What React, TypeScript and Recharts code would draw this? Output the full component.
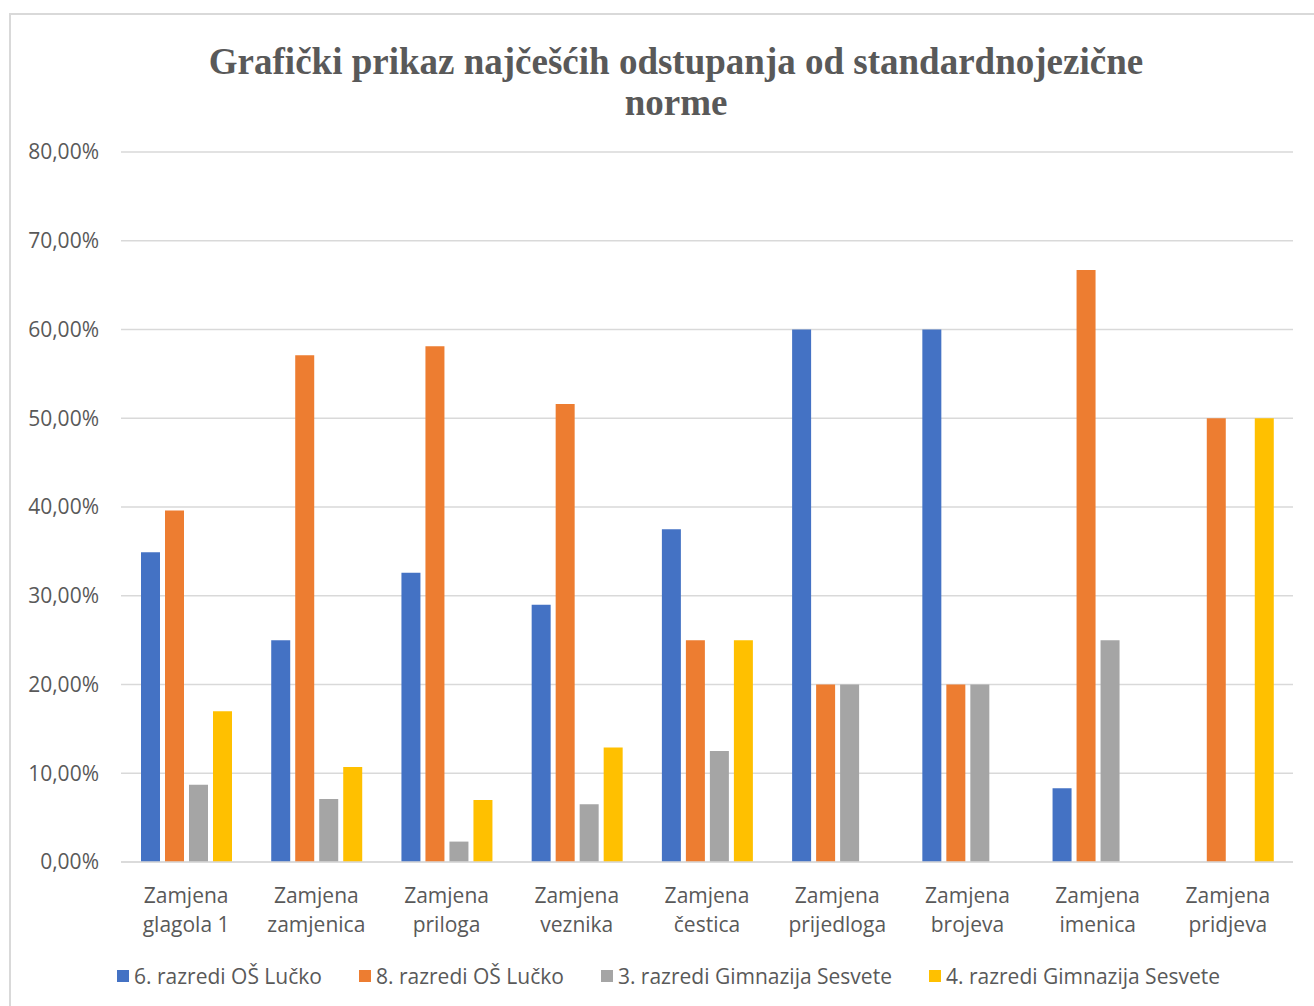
import { BarChart, Bar, XAxis, YAxis, CartesianGrid } from 'recharts';

const categories = [
  'Zamjena glagola 1',
  'Zamjena zamjenica',
  'Zamjena priloga',
  'Zamjena veznika',
  'Zamjena čestica',
  'Zamjena prijedloga',
  'Zamjena brojeva',
  'Zamjena imenica',
  'Zamjena pridjeva',
];

const seriesNames = [
  '6. razredi OŠ Lučko',
  '8. razredi OŠ Lučko',
  '3. razredi Gimnazija Sesvete',
  '4. razredi Gimnazija Sesvete',
];
const colors = ['#4472c4', '#ed7d31', '#a5a5a5', '#ffc000'];

const sesti = [34.9, 25, 32.6, 29, 37.5, 60, 60, 8.3, 0];
const osmi = [39.6, 57.1, 58.1, 51.6, 25, 20, 20, 66.7, 50];
const treci = [8.7, 7.1, 2.3, 6.5, 12.5, 20, 20, 25, 0];
const cetvrti = [17, 10.7, 7, 12.9, 25, 0, 0, 0, 50];

const yTicks = [0, 10, 20, 30, 40, 50, 60, 70, 80];

const data = categories.map((name, i) => ({
  name,
  s0: sesti[i],
  s1: osmi[i],
  s2: treci[i],
  s3: cetvrti[i],
}));

const FONT = '"Open Sans", "Noto Sans", sans-serif';
const TEXT = '#595959';

function fmt(v: number) {
  return v.toFixed(2).replace('.', ',') + '%';
}

function CatTick(props: any) {
  const { x, y, payload } = props;
  const words = String(payload.value).split(' ');
  return (
    <text x={x} y={y} textAnchor="middle" fill={TEXT} fontSize={21} fontFamily={FONT}>
      <tspan x={x} dy={33}>{words[0]}</tspan>
      <tspan x={x} dy={29}>{words.slice(1).join(' ')}</tspan>
    </text>
  );
}

export default function App() {
  return (
    <div style={{ position: 'absolute', left: 0, top: 0, width: 1314, height: 1006, background: '#fff', overflow: 'hidden' }}>
      <div
        style={{
          position: 'absolute',
          left: 9,
          top: 13,
          width: 1400,
          height: 1100,
          borderLeft: '2px solid #d9d9d9',
          borderTop: '2px solid #d9d9d9',
        }}
      />
      <div
        style={{
          position: 'absolute',
          left: 0,
          width: 1352,
          top: 41,
          textAlign: 'center',
          fontFamily: '"Liberation Serif", "Times New Roman", serif',
          fontWeight: 'bold',
          fontSize: 37,
          lineHeight: '41px',
          color: TEXT,
        }}
      >
        Grafički prikaz najčešćih odstupanja od standardnojezične
        <br />
        norme
      </div>
      <div style={{ position: 'absolute', left: 0, top: 0 }}>
        <BarChart
          width={1314}
          height={1006}
          data={data}
          margin={{ top: 152, right: 21, bottom: 64, left: 0 }}
          barSize={19}
          barGap={5}
        >
          <CartesianGrid vertical={false} stroke="#d9d9d9" strokeWidth={1.5} />
          <XAxis
            dataKey="name"
            tick={<CatTick />}
            tickLine={false}
            axisLine={{ stroke: '#d9d9d9', strokeWidth: 1.5 }}
            height={80}
            interval={0}
          />
          <YAxis
            domain={[0, 80]}
            ticks={yTicks}
            tickFormatter={fmt}
            width={121}
            tickLine={false}
            axisLine={false}
            tickMargin={16}
            tick={{ fill: TEXT, fontSize: 21, fontFamily: FONT }}
          />
          {['s0', 's1', 's2', 's3'].map((k, i) => (
            <Bar key={k} dataKey={k} name={seriesNames[i]} fill={colors[i]} isAnimationActive={false} />
          ))}
        </BarChart>
      </div>
      <div
        style={{
          position: 'absolute',
          left: 117,
          top: 962,
          display: 'flex',
          alignItems: 'center',
          fontFamily: FONT,
          fontSize: 21,
          color: TEXT,
          whiteSpace: 'nowrap',
        }}
      >
        {seriesNames.map((n, i) => (
          <div key={n} style={{ display: 'flex', alignItems: 'center', marginRight: 37 }}>
            <span style={{ display: 'inline-block', width: 12, height: 12, background: colors[i], marginRight: 5 }} />
            <span>{n}</span>
          </div>
        ))}
      </div>
    </div>
  );
}
